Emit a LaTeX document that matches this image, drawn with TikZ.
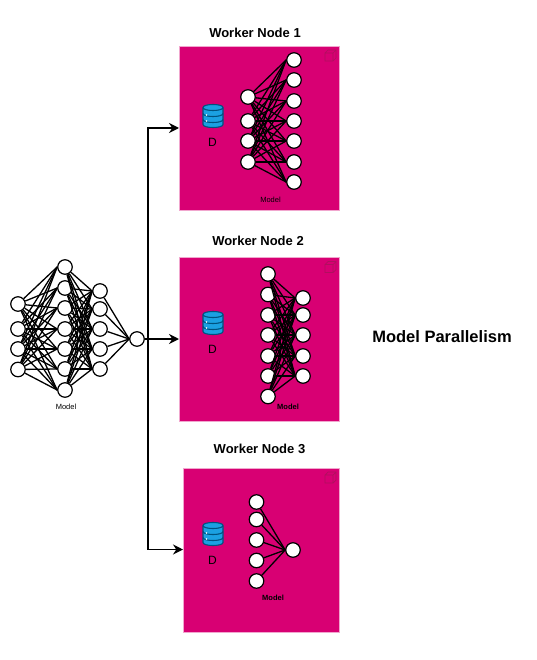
\documentclass[tikz,border=0pt]{standalone}
\usepackage{fontspec}
\setmainfont{Liberation Sans}
\usetikzlibrary{arrows.meta}
\definecolor{workerpink}{HTML}{D80073}
\definecolor{cubeline}{HTML}{B0105F}
\definecolor{dbfill}{HTML}{1BA1E2}
\definecolor{dbline}{HTML}{00527F}
\tikzset{
  x=1pt,y=-1pt,
  neuron/.style={circle,draw=black,fill=white,line width=1.2pt,minimum size=14.5pt,inner sep=0pt},
  link/.style={draw=black,line width=1.3pt},
  workerbox/.style={draw=white!65!workerpink,fill=workerpink,line width=.6pt,anchor=north west,inner sep=0pt,outer sep=0pt},
  title/.style={font=\bfseries\fontsize{13}{15}\selectfont},
  modeltext/.style={font=\fontsize{7.5}{9}\selectfont},
  modelbold/.style={font=\bfseries\fontsize{7.5}{9}\selectfont},
  flow/.style={draw=black,line width=1.8pt,-{Stealth[length=10pt,width=10pt]}},
  dbshape/.style={dbline,line width=1.1pt},
}
\newcommand{\dbicon}[2]{%
  \draw[dbshape,fill=dbfill] (#1,#2+3.5) -- (#1,#2+20.5)
     .. controls (#1,#2+24.5) and (#1+20,#2+24.5) .. (#1+20,#2+20.5) -- (#1+20,#2+3.5)
     .. controls (#1+20,#2-.5) and (#1,#2-.5) .. (#1,#2+3.5) -- cycle;
  \draw[dbshape] (#1,#2+3.5) .. controls (#1,#2+7.5) and (#1+20,#2+7.5) .. (#1+20,#2+3.5);
  \draw[dbshape] (#1,#2+9.5) .. controls (#1,#2+13.5) and (#1+20,#2+13.5) .. (#1+20,#2+9.5);
  \draw[dbshape] (#1,#2+15.5) .. controls (#1,#2+19.5) and (#1+20,#2+19.5) .. (#1+20,#2+15.5);
  \fill[white] (#1+3.5,#2+11) circle (.8pt) (#1+3.5,#2+17) circle (.8pt);
  \node[font=\fontsize{12}{14}\selectfont] at (#1+9.5,#2+38) {D};
}
\newcommand{\cubeicon}[2]{%
  \draw[cubeline,line width=.7pt] (#1,#2+3) rectangle (#1+8,#2+11)
    (#1,#2+3) -- (#1+3,#2) -- (#1+11,#2) -- (#1+11,#2+8) -- (#1+8,#2+11)
    (#1+8,#2+3) -- (#1+11,#2);
}
\begin{document}
\begin{tikzpicture}
\useasboundingbox (0,0) rectangle (536,660);
\fill[white] (0,0) rectangle (536,660);

% worker boxes
\node[workerbox,minimum width=160pt,minimum height=164pt] (w1) at (179,46) {};
\node[workerbox,minimum width=160pt,minimum height=164pt] (w2) at (179,257.5) {};
\node[workerbox,minimum width=156pt,minimum height=164pt] (w3) at (183,468) {};
\cubeicon{325}{50}
\cubeicon{325}{261.5}
\cubeicon{325}{472}

\node[title] (t1) at (255,32.5) {Worker Node 1};
\node[title] (t2) at (258,241) {Worker Node 2};
\node[title] (t3) at (259.5,449) {Worker Node 3};
\node[font=\bfseries\fontsize{16.5}{19}\selectfont] (mp) at (442,337) {Model Parallelism};

% databases
\dbicon{203}{104}
\dbicon{203}{311}
\dbicon{203}{522}

% main model
\foreach \n/\y in {1/304,2/329,3/349,4/369.5} \node[neuron] (ma\n) at (18,\y) {};
\foreach \n/\y in {1/267,2/288,3/308,4/329,5/349,6/369,7/390} \node[neuron] (mb\n) at (65,\y) {};
\foreach \n/\y in {1/291,2/309,3/329,4/349,5/369} \node[neuron] (mc\n) at (100,\y) {};
\node[neuron] (mo) at (137,339) {};
\node[modeltext] (ml) at (66,407) {Model};

% worker 1 model
\foreach \n/\y in {1/97,2/121,3/141,4/162} \node[neuron] (pa\n) at (248,\y) {};
\foreach \n/\y in {1/60,2/80,3/101,4/121,5/141,6/162,7/182} \node[neuron] (pb\n) at (294,\y) {};
\node[modeltext] (pl) at (270.5,199.5) {Model};

% worker 2 model
\foreach \n/\y in {1/274,2/294.5,3/315,4/335,5/356,6/376,7/396.5} \node[neuron] (qa\n) at (268,\y) {};
\foreach \n/\y in {1/298,2/315,3/335,4/356,5/376} \node[neuron] (qb\n) at (303,\y) {};
\node[modelbold] (ql) at (288,407) {Model};

% worker 3 model
\foreach \n/\y in {1/502,2/519.5,3/540,4/560.5,5/581} \node[neuron] (ra\n) at (256.5,\y) {};
\node[neuron] (rb) at (293,550) {};
\node[modelbold] (rl) at (273,597.5) {Model};

% connectors
\foreach \a in {1,...,4} \foreach \b in {1,...,7} \draw[link] (ma\a) -- (mb\b.west);
\foreach \a in {1,...,7} \foreach \b in {1,...,5} \draw[link] (mb\a) -- (mc\b.west);
\foreach \a in {1,...,5} \draw[link] (mc\a) -- (mo.west);
\foreach \a in {1,...,4} \foreach \b in {1,...,7} \draw[link] (pa\a) -- (pb\b.west);
\foreach \a in {1,...,7} \foreach \b in {1,...,5} \draw[link] (qa\a) -- (qb\b.west);
\foreach \a in {1,...,5} \draw[link] (ra\a) -- (rb.west);

% flow
\coordinate (j) at (148,339);
\draw[flow] (mo.east) -- (w2.west |- mo.east);
\draw[flow] (j) |- (w1.west |- 0,128);
\draw[flow] (j) |- (w3.west |- 0,549.5);
\end{tikzpicture}
\end{document}
